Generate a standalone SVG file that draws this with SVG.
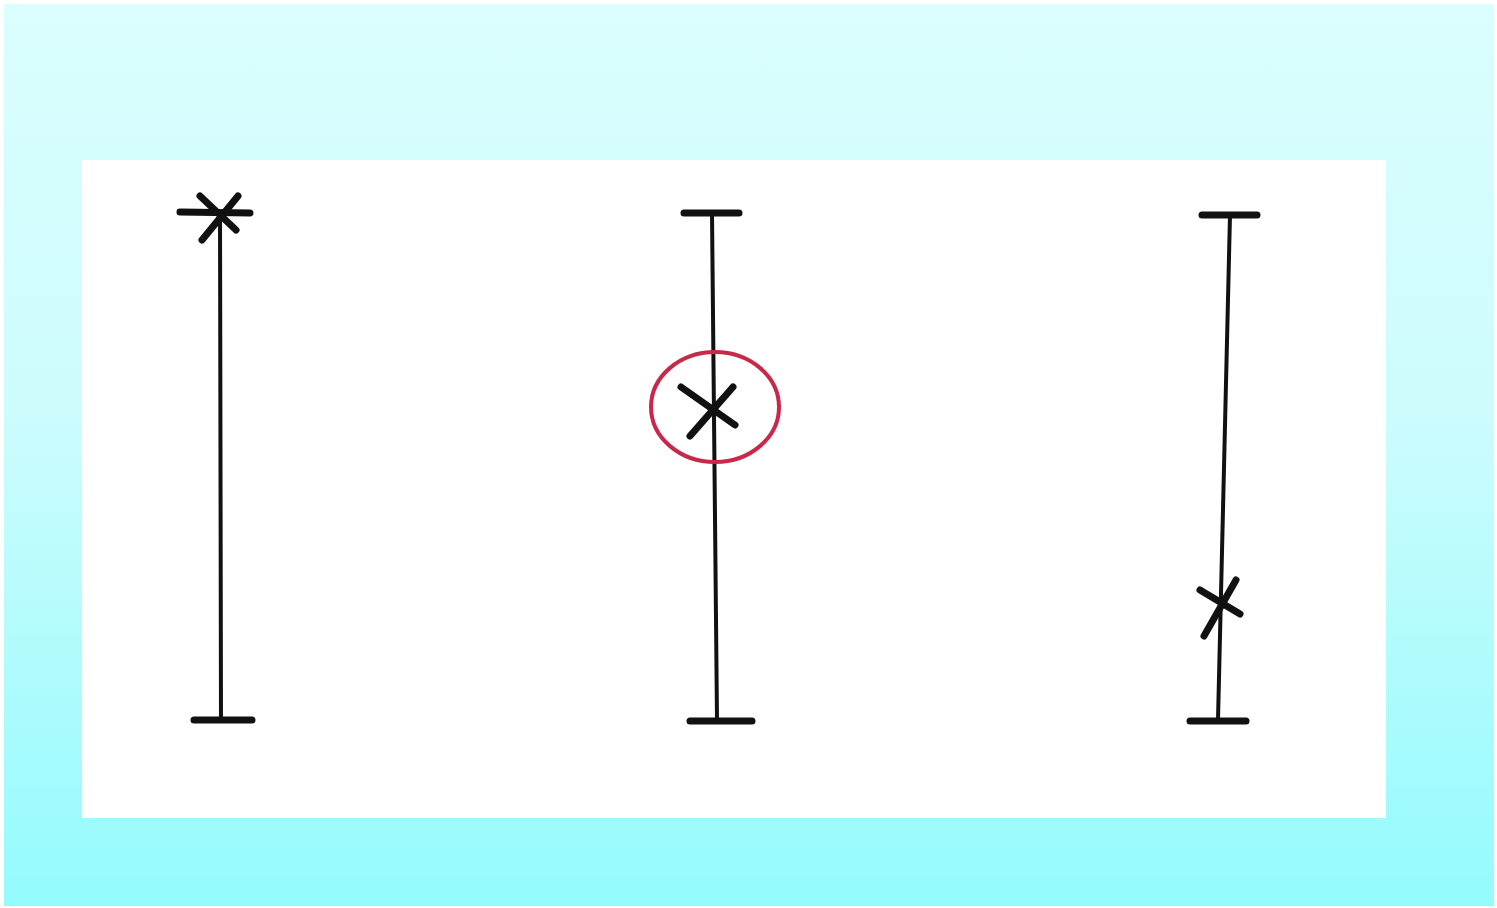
<svg xmlns="http://www.w3.org/2000/svg" width="1497" height="908" viewBox="0 0 1497 908">
<defs>
<linearGradient id="bg" x1="0" y1="0" x2="0" y2="1">
<stop offset="0" stop-color="#dbfefe"/>
<stop offset="0.45" stop-color="#cdfcfd"/>
<stop offset="1" stop-color="#94fbfd"/>
</linearGradient>
</defs>
<style>
.ink{stroke:#111;fill:none;stroke-linecap:round;}
.bar{stroke-width:7;}
.line{stroke-width:4;}
.x{stroke-width:7;}
</style>
<rect x="0" y="0" width="1497" height="908" fill="#fff"/>
<rect x="4" y="4" width="1490" height="902" fill="url(#bg)"/>
<rect x="82" y="160" width="1304" height="658" fill="#fff"/>
<g id="left">
<line class="ink line" x1="220" y1="212" x2="221" y2="720"/>
<line class="ink bar" x1="180" y1="212" x2="250" y2="213"/>
<line class="ink bar" x1="194" y1="720" x2="252" y2="720"/>
<line class="ink x" x1="200" y1="196" x2="236" y2="230"/>
<line class="ink x" x1="238" y1="196" x2="202" y2="240"/>
</g>
<g id="middle">
<line class="ink line" x1="712" y1="213" x2="717" y2="720"/>
<line class="ink bar" x1="684" y1="213" x2="739" y2="213"/>
<line class="ink bar" x1="690" y1="721" x2="752" y2="721"/>
<line class="ink x" x1="681" y1="387" x2="735" y2="425"/>
<line class="ink x" x1="733" y1="387" x2="690" y2="436"/>
<ellipse cx="715" cy="407" rx="64" ry="55" fill="none" stroke="#c8284a" stroke-width="4"/>
</g>
<g id="right">
<line class="ink line" x1="1230" y1="215" x2="1218" y2="720"/>
<line class="ink bar" x1="1202" y1="215" x2="1257" y2="215"/>
<line class="ink bar" x1="1190" y1="721" x2="1246" y2="721"/>
<line class="ink x" x1="1200" y1="590" x2="1240" y2="614"/>
<line class="ink x" x1="1236" y1="580" x2="1204" y2="636"/>
</g>
</svg>
